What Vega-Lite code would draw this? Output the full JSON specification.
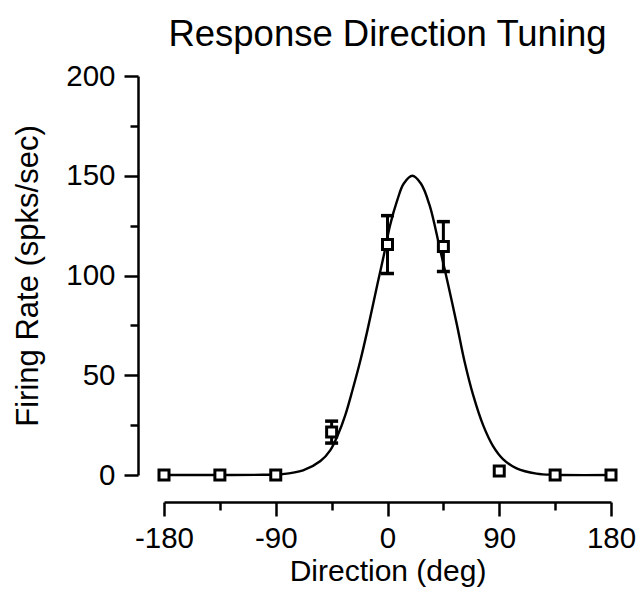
{
  "$schema": "https://vega.github.io/schema/vega-lite/v6.json",
  "width": 447,
  "height": 399,
  "autosize": "none",
  "padding": {"left": 164, "top": 76, "right": 30, "bottom": 126},
  "background": "white",
  "title": {
    "text": "Response Direction Tuning",
    "font": "Liberation Sans",
    "fontSize": 36.5,
    "fontWeight": "normal",
    "color": "black",
    "frame": "group",
    "anchor": "middle",
    "offset": 8
  },
  "config": {
    "view": {"stroke": null},
    "axis": {
      "grid": false,
      "domainColor": "black",
      "domainWidth": 2.5,
      "tickColor": "black",
      "tickWidth": 2.5,
      "labelColor": "black",
      "labelFont": "Liberation Sans",
      "labelFontSize": 29.5,
      "titleColor": "black",
      "titleFont": "Liberation Sans",
      "titleFontSize": 30,
      "titleFontWeight": "normal"
    }
  },
  "datasets": {
    "curve": [
      {"direction": -180, "rate": 0},
      {"direction": -135, "rate": 0},
      {"direction": -100, "rate": 0.1},
      {"direction": -85, "rate": 0.4},
      {"direction": -68, "rate": 2.3},
      {"direction": -54, "rate": 7},
      {"direction": -46, "rate": 12.5},
      {"direction": -40, "rate": 20},
      {"direction": -34, "rate": 30},
      {"direction": -28, "rate": 43},
      {"direction": -22, "rate": 57},
      {"direction": -16, "rate": 73},
      {"direction": -8, "rate": 96},
      {"direction": -3, "rate": 110},
      {"direction": 2, "rate": 125},
      {"direction": 8, "rate": 138},
      {"direction": 13, "rate": 146},
      {"direction": 20, "rate": 150},
      {"direction": 27, "rate": 146},
      {"direction": 34, "rate": 135},
      {"direction": 42, "rate": 114},
      {"direction": 49, "rate": 95},
      {"direction": 56, "rate": 75},
      {"direction": 62, "rate": 57},
      {"direction": 69, "rate": 40},
      {"direction": 77, "rate": 25},
      {"direction": 85, "rate": 14.5},
      {"direction": 93, "rate": 8},
      {"direction": 104, "rate": 3.3},
      {"direction": 120, "rate": 0.7},
      {"direction": 135, "rate": 0.1},
      {"direction": 180, "rate": 0}
    ],
    "responses": [
      {"direction": -180, "rate": 0},
      {"direction": -135, "rate": 0},
      {"direction": -90, "rate": 0},
      {"direction": -45, "rate": 21.5, "lo": 16, "hi": 27},
      {"direction": 0, "rate": 115.5, "lo": 101, "hi": 130},
      {"direction": 45, "rate": 114.5, "lo": 102, "hi": 127},
      {"direction": 90, "rate": 2},
      {"direction": 135, "rate": 0},
      {"direction": 180, "rate": 0}
    ]
  },
  "layer": [
    {
      "data": {"name": "curve"},
      "mark": {"type": "line", "color": "black", "strokeWidth": 2.4, "interpolate": "catmull-rom"},
      "encoding": {
        "x": {
          "field": "direction",
          "type": "quantitative",
          "scale": {"domain": [-180, 180], "nice": false, "zero": false},
          "axis": {
            "title": "Direction (deg)",
            "offset": 27,
            "values": [-180, -135, -90, -45, 0, 45, 90, 135, 180],
            "labelExpr": "datum.value % 90 === 0 ? toString(datum.value) : ''",
            "labelFlush": false,
            "labelOverlap": false,
            "labelPadding": 8,
            "tickSize": {"condition": {"test": "datum.value % 90 === 0", "value": 14}, "value": 8},
            "titlePadding": 4
          }
        },
        "y": {
          "field": "rate",
          "type": "quantitative",
          "scale": {"domain": [0, 200], "nice": false},
          "axis": {
            "title": "Firing Rate (spks/sec)",
            "titleFontSize": 31,
            "offset": 26,
            "values": [0, 25, 50, 75, 100, 125, 150, 175, 200],
            "labelExpr": "datum.value % 50 === 0 ? toString(datum.value) : ''",
            "labelOverlap": false,
            "labelPadding": 9,
            "tickSize": {"condition": {"test": "datum.value % 50 === 0", "value": 14}, "value": 8},
            "titlePadding": 21
          }
        }
      }
    },
    {
      "data": {"name": "responses"},
      "transform": [{"filter": "isValid(datum.lo)"}],
      "mark": {"type": "errorbar", "color": "black", "opacity": 1, "thickness": 3, "ticks": {"size": 13, "thickness": 3.5, "color": "black", "opacity": 1}},
      "encoding": {
        "x": {"field": "direction", "type": "quantitative", "scale": {"domain": [-180, 180], "nice": false, "zero": false}, "title": "Direction (deg)"},
        "y": {"field": "lo", "type": "quantitative", "scale": {"domain": [0, 200], "nice": false}, "title": "Firing Rate (spks/sec)"},
        "y2": {"field": "hi"}
      }
    },
    {
      "data": {"name": "responses"},
      "mark": {"type": "point", "shape": "square", "size": 100, "filled": false, "fill": "white", "stroke": "black", "strokeWidth": 3, "opacity": 1},
      "encoding": {
        "x": {"field": "direction", "type": "quantitative", "scale": {"domain": [-180, 180], "nice": false, "zero": false}, "title": "Direction (deg)"},
        "y": {"field": "rate", "type": "quantitative", "scale": {"domain": [0, 200], "nice": false}, "title": "Firing Rate (spks/sec)"}
      }
    }
  ]
}
